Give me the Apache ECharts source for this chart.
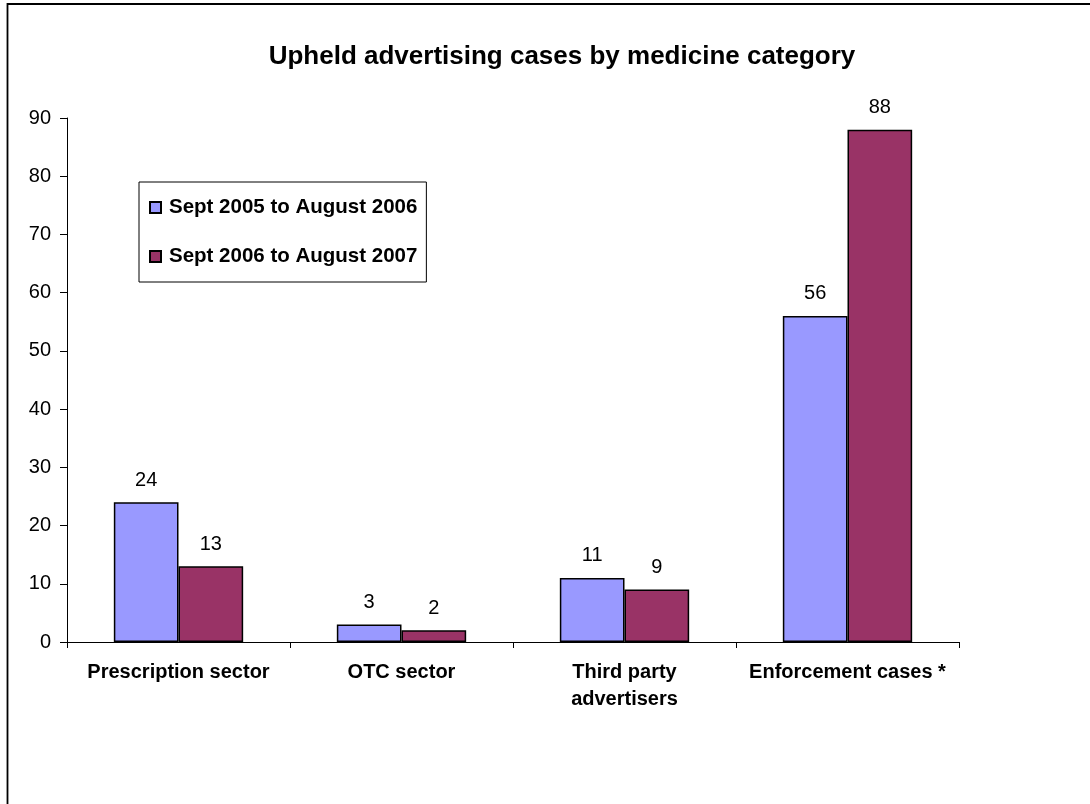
<!DOCTYPE html>
<html>
<head>
<meta charset="utf-8">
<script src="https://cdn.jsdelivr.net/npm/echarts@6/dist/echarts.min.js"></script>
<style>
  html, body { margin: 0; padding: 0; background: #fff; }
  #chart { width: 1090px; height: 804px; }
</style>
</head>
<body>
<div id="chart"></div>
<script>
// Upheld advertising cases, by medicine category and period
const categories = ['Prescription sector', 'OTC sector', 'Third party\nadvertisers', 'Enforcement cases *'];
const period1Name = 'Sept 2005 to August 2006';
const period2Name = 'Sept 2006 to August 2007';
const period1Values = [24, 3, 11, 56];
const period2Values = [13, 2, 9, 88];
const yTicks = { min: 0, max: 90, interval: 10 };

const FONT = '"Liberation Sans", Arial, sans-serif';

const chart = echarts.init(document.getElementById('chart'), null, { renderer: 'canvas' });

const labelStyle = {
  show: true,
  position: 'top',
  distance: 12,
  color: '#000',
  fontFamily: FONT,
  fontSize: 20
};

chart.setOption({
  backgroundColor: '#fff',
  animation: false,
  graphic: [{
    type: 'rect',
    shape: { x: 7.5, y: 4, width: 1200, height: 1000 },
    style: { fill: 'none', stroke: '#000', lineWidth: 1.8 },
    silent: true
  }],
  title: {
    text: 'Upheld advertising cases by medicine category',
    left: 557,
    textAlign: 'center',
    top: 39,
    textStyle: { fontFamily: FONT, fontSize: 26, fontWeight: 'bold', color: '#000' }
  },
  legend: {
    orient: 'vertical',
    left: 139,
    top: 182,
    padding: [15, 9, 15, 10],
    itemGap: 28,
    itemWidth: 11,
    itemHeight: 11,
    borderColor: '#000',
    borderWidth: 1,
    backgroundColor: '#fff',
    icon: 'rect',
    textStyle: { fontFamily: FONT, fontSize: 20.5, fontWeight: 'bold', color: '#000', padding: [0, 0, 0, 3] },
    data: [period1Name, period2Name]
  },
  grid: { left: 67, right: 131, top: 118, bottom: 162, containLabel: false },
  xAxis: {
    type: 'category',
    data: categories,
    axisLine: { lineStyle: { color: '#000', width: 1 } },
    axisTick: { show: true, length: 6, lineStyle: { color: '#000' } },
    axisLabel: {
      color: '#000',
      fontFamily: FONT,
      fontSize: 20,
      fontWeight: 'bold',
      margin: 17,
      lineHeight: 27,
      interval: 0
    }
  },
  yAxis: {
    type: 'value',
    min: yTicks.min,
    max: yTicks.max,
    interval: yTicks.interval,
    axisLine: { show: true, lineStyle: { color: '#000', width: 1 } },
    axisTick: { show: true, length: 7, lineStyle: { color: '#000' } },
    splitLine: { show: false },
    axisLabel: { color: '#000', fontFamily: FONT, fontSize: 20, margin: 16 }
  },
  series: [
    {
      name: period1Name,
      type: 'bar',
      data: period1Values,
      barGap: '0%',
      barCategoryGap: '42%',
      itemStyle: { color: '#9999FF', borderColor: '#000', borderWidth: 1.5 },
      label: labelStyle
    },
    {
      name: period2Name,
      type: 'bar',
      data: period2Values,
      barGap: '0%',
      barCategoryGap: '42%',
      itemStyle: { color: '#993366', borderColor: '#000', borderWidth: 1.5 },
      label: labelStyle
    }
  ]
});
</script>
</body>
</html>
